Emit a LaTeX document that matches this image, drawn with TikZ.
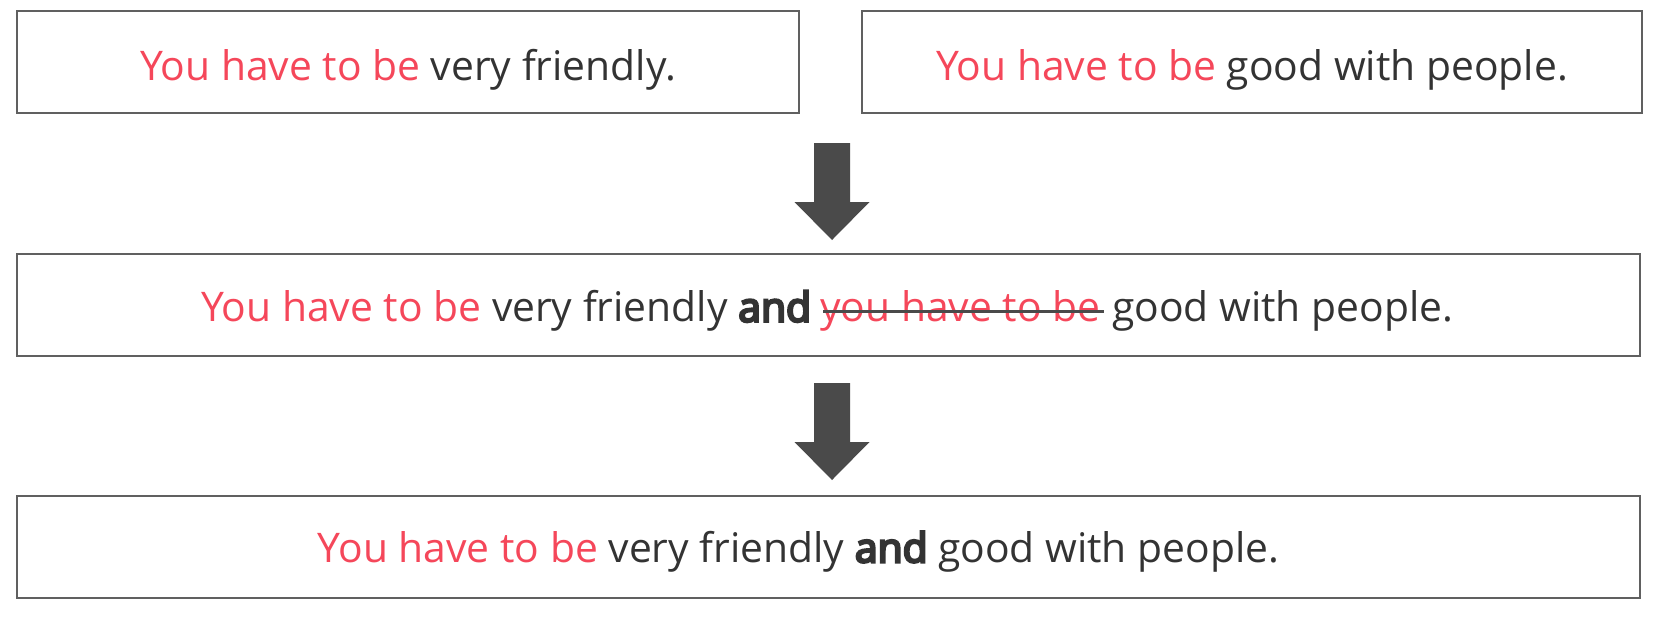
\documentclass[tikz,border=0pt]{standalone}
\usepackage{fontspec}
\setmainfont{Open Sans}
\newfontface\heavy{Open Sans}[FakeBold=6]
\usetikzlibrary{positioning}
\definecolor{hlred}{HTML}{F5475A}
\definecolor{ink}{HTML}{333333}
\definecolor{frame}{HTML}{606060}
\definecolor{arrowgray}{HTML}{4A4A4A}
\tikzset{
  sentence/.style={draw=frame, line width=1pt, fill=white, text=ink, inner sep=0pt,
    font=\fontsize{20.4}{24}\selectfont, minimum height=51pt,
    text height=18pt, text depth=0pt},
  words/.style={inner sep=0pt, text=ink, font=\fontsize{20.4}{24}\selectfont},
  downarrow/.pic={\fill[arrowgray] (-18,0) -- (18,0) -- (18,59) -- (37.5,59) -- (0,97)
    -- (-37.5,59) -- (-18,59) -- cycle;}
}

\begin{document}
\begin{tikzpicture}[x=0.5pt, y=-0.5pt]
    \useasboundingbox (0,0) rectangle (1660,618);
    \node[sentence, minimum width=391pt] (first) at (408,62)
      {\textcolor{hlred}{You have to be} very friendly.};
    \node[sentence, minimum width=390pt, right=30.5pt of first] (second)
      {\textcolor{hlred}{You have to be} good with people.};
    \pic (stepone) at (832,143) {downarrow};
    % middle sentence: three pieces so the struck words can be crossed out
    \node[sentence, minimum width=811.5pt] (joined) at (828.5,304.5) {};
    \node[words, anchor=base west] (before) at (200.7,321.7)
      {\textcolor{hlred}{You have to be} very friendly {\heavy and}};
    \node[words, anchor=base west, text=hlred] (struck) at (820,321.7) {you have to be};
    \node[words, anchor=base west] (after) at (1111.7,321.7) {good with people.};
    \draw[arrowgray, line width=1.5pt] ([xshift=1.5pt, yshift=5.3pt]struck.base west)
      -- ([xshift=1.5pt, yshift=5.3pt]struck.base east);
    \pic (steptwo) at (832,383) {downarrow};
    \node[sentence, minimum width=811.5pt] (reduced) at (828.5,546.5) {};
    \node[words, anchor=base west] (reducedtext) at (317.3,562.3)
      {\textcolor{hlred}{You have to be} very friendly {\heavy and} good with people.};
\end{tikzpicture}
\end{document}
